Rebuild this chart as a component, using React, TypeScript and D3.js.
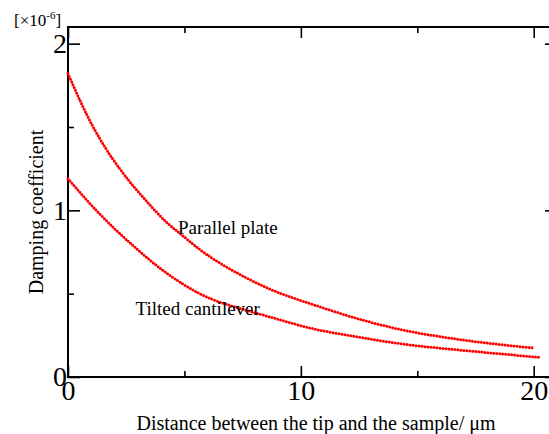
import React, { useEffect, useRef } from 'react';
import * as d3 from 'd3';

// distances (um) and damping coefficient (x1e-6)
const distParallel = [0, 1.08, 1.63, 2.78, 3.31, 4.22, 4.82, 5.66, 7.66, 8.55, 10.84, 12.7, 14.28, 16.57, 20.0];
const dampParallel = [1.82, 1.5, 1.37, 1.15, 1.065, 0.93, 0.86, 0.765, 0.595, 0.535, 0.42, 0.34, 0.285, 0.23, 0.174];
const distTilted = [0, 1.35, 2.78, 4.22, 5.66, 7.66, 8.55, 10.84, 11.42, 14.28, 17.72, 20.26];
const dampTilted = [1.19, 0.98, 0.79, 0.625, 0.5, 0.4, 0.365, 0.28, 0.265, 0.2, 0.15, 0.118];

const xMajor = [0, 10, 20];
const xMinor = [5, 15];
const yMajor = [0, 1, 2];
const yMinor = [0.5, 1.5];

const seriesNames = ['Parallel plate', 'Tilted cantilever'];

const FONT = '"Liberation Serif", "Times New Roman", serif';

const App = () => {
  const svgRef = useRef<SVGSVGElement>(null);

  useEffect(() => {
    const width = 549;
    const height = 434;
    const marginTop = 27;
    const marginLeft = 68;
    const plotRight = 557;
    const plotBottom = 377;

    const svg = d3.select(svgRef.current);
    svg.selectAll('*').remove();

    const x = d3.scaleLinear([0, 21], [marginLeft, plotRight]);
    const y = d3.scaleLinear([0, 2.1], [plotBottom, marginTop]);

    // frame
    svg.append('rect')
      .attr('x', marginLeft)
      .attr('y', marginTop)
      .attr('width', plotRight - marginLeft)
      .attr('height', plotBottom - marginTop)
      .attr('fill', 'none')
      .attr('stroke', '#000')
      .attr('stroke-width', 2);

    const styleAxis = (g) => {
      g.select('.domain').remove();
      g.selectAll('.tick line').attr('stroke', '#000').attr('stroke-width', 1.6);
      g.selectAll('text')
        .attr('font-family', FONT)
        .attr('font-size', 28)
        .attr('fill', '#000');
    };

    // bottom axis with labels
    svg.append('g')
      .attr('transform', `translate(0,${plotBottom})`)
      .call(d3.axisBottom(x).tickValues(xMajor).tickSize(-11).tickPadding(3).tickFormat(d3.format('d')))
      .call(styleAxis);
    svg.append('g')
      .attr('transform', `translate(0,${plotBottom})`)
      .call(d3.axisBottom(x).tickValues(xMinor).tickSize(-6).tickFormat(() => ''))
      .call(styleAxis);

    // top axis, ticks only
    svg.append('g')
      .attr('transform', `translate(0,${marginTop})`)
      .call(d3.axisTop(x).tickValues(xMajor).tickSize(-11).tickFormat(() => ''))
      .call(styleAxis);
    svg.append('g')
      .attr('transform', `translate(0,${marginTop})`)
      .call(d3.axisTop(x).tickValues(xMinor).tickSize(-6).tickFormat(() => ''))
      .call(styleAxis);

    // left axis with labels
    svg.append('g')
      .attr('transform', `translate(${marginLeft},0)`)
      .call(d3.axisLeft(y).tickValues(yMajor).tickSize(-12).tickPadding(1).tickFormat(d3.format('d')))
      .call(styleAxis);
    svg.append('g')
      .attr('transform', `translate(${marginLeft},0)`)
      .call(d3.axisLeft(y).tickValues(yMinor).tickSize(-6).tickFormat(() => ''))
      .call(styleAxis);

    // right axis, ticks only
    svg.append('g')
      .attr('transform', `translate(${plotRight},0)`)
      .call(d3.axisRight(y).tickValues(yMajor).tickSize(-12).tickFormat(() => ''))
      .call(styleAxis);
    svg.append('g')
      .attr('transform', `translate(${plotRight},0)`)
      .call(d3.axisRight(y).tickValues(yMinor).tickSize(-6).tickFormat(() => ''))
      .call(styleAxis);

    // curves
    const line = d3.line<[number, number]>()
      .x(d => x(d[0]))
      .y(d => y(d[1]))
      .curve(d3.curveMonotoneX);

    const curves = [
      d3.zip(distParallel, dampParallel),
      d3.zip(distTilted, dampTilted),
    ];

    svg.append('g')
      .selectAll('path')
      .data(curves)
      .join('path')
      .attr('fill', 'none')
      .attr('stroke', '#ff0000')
      .attr('stroke-width', 3)
      .attr('stroke-linecap', 'round')
      .attr('stroke-dasharray', '0 3')
      .attr('d', d => line(d as [number, number][]));

    // curve names
    const namePos = [[4.72, 0.86], [2.9, 0.37]];
    svg.append('g')
      .selectAll('text')
      .data(seriesNames)
      .join('text')
      .attr('x', (d, i) => x(namePos[i][0]))
      .attr('y', (d, i) => y(namePos[i][1]))
      .attr('font-family', FONT)
      .attr('font-size', 19)
      .attr('fill', '#000')
      .text(d => d);

    // unit label
    const unit = svg.append('text')
      .attr('x', 14)
      .attr('y', 26)
      .attr('font-family', FONT)
      .attr('font-size', 17)
      .attr('fill', '#000');
    unit.append('tspan').text('[×10');
    unit.append('tspan').attr('font-size', 11).attr('dy', -7).text('-6');
    unit.append('tspan').attr('dy', 7).text(']');

    // axis titles
    svg.append('text')
      .attr('x', 316)
      .attr('y', 430)
      .attr('text-anchor', 'middle')
      .attr('font-family', FONT)
      .attr('font-size', 20)
      .attr('fill', '#000')
      .text('Distance between the tip and the sample/  μm');

    svg.append('text')
      .attr('transform', 'translate(43,212) rotate(-90)')
      .attr('text-anchor', 'middle')
      .attr('font-family', FONT)
      .attr('font-size', 20)
      .attr('fill', '#000')
      .text('Damping coefficient');

    svg.attr('width', width).attr('height', height);
  }, []);

  return (
    <svg
      ref={svgRef}
      width={549}
      height={434}
      style={{ position: 'absolute', left: 0, top: 0, background: '#fff' }}
    />
  );
};

export default App;
